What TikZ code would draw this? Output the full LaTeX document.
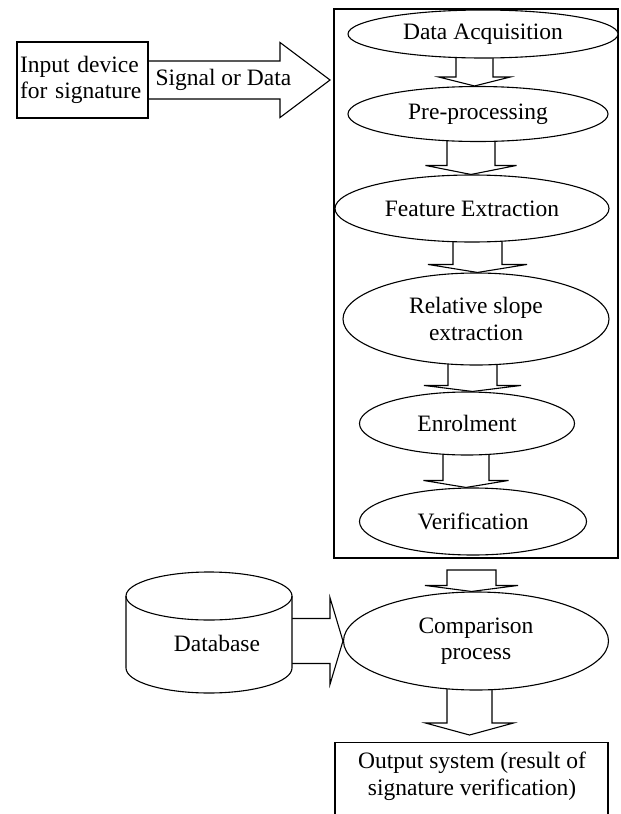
\documentclass[tikz,border=0pt]{standalone}
\usepackage{fontspec}
\setmainfont{Liberation Serif}
\usetikzlibrary{calc,shapes.geometric}
\pgfdeclarelayer{background}
\pgfsetlayers{background,main}

% Downward block arrow: x of axis, start, tip, half shaft, half head, head length
\newcommand{\downblock}[6]{%
  \draw[blockarrow] let \p1=(#2), \p2=(#3) in
    (#1pt-#4pt,\y1) -- (#1pt-#4pt,\y2+#6pt) -- (#1pt-#5pt,\y2+#6pt) -- (#1pt,\y2)
    -- (#1pt+#5pt,\y2+#6pt) -- (#1pt+#4pt,\y2+#6pt) -- (#1pt+#4pt,\y1) -- cycle;}
% Rightward block arrow: start, tip, half shaft, half head, head length
\newcommand{\rightblock}[5]{%
  \draw[blockarrow] let \p1=(#1), \p2=(#2) in
    (\x1,\y2+#3pt) -- (\x2-#5pt,\y2+#3pt) -- (\x2-#5pt,\y2+#4pt) -- (\x2,\y2)
    -- (\x2-#5pt,\y2-#4pt) -- (\x2-#5pt,\y2-#3pt) -- (\x1,\y2-#3pt) -- cycle;}

\begin{document}
\begin{tikzpicture}[x=1pt,y=-1pt,line width=1.1pt,
  font=\fontsize{23.5}{26.5}\selectfont,
  stage/.style={ellipse,draw,fill=white,inner sep=0pt,align=center},
  blockarrow/.style={draw=black,fill=white,line width=1.1pt,line join=miter},
  box/.style={rectangle,draw,fill=white}]
\useasboundingbox (0,0) rectangle (621,814);
\clip (0,0) rectangle (621,814);

% input device and processing frame
\node[box,minimum height=76pt,text width=125pt,inner xsep=3pt,align=left]
  (in) at (82.5,80) {Input device\\for signature};
\node[draw,minimum width=284pt,minimum height=549pt,inner sep=0pt]
  (frame) at (476,283.5) {};
\coordinate (sigtip) at (330,80);
\node[anchor=west,inner sep=0pt] (sig) at (155,80) {Signal or Data};

% processing stages
\node[stage,minimum width=270pt,minimum height=48pt] (acq) at (483,34) {Data Acquisition};
\node[stage,minimum width=260pt,minimum height=55pt] (pre) at (478,114) {Pre-processing};
\node[stage,minimum width=274pt,minimum height=67pt] (feat) at (472,208.5) {Feature Extraction};
\node[stage,minimum width=266pt,minimum height=92pt] (rel) at (476,319) {Relative slope\\extraction};
\node[stage,minimum width=215pt,minimum height=63pt] (enr) at (467,423.5) {Enrolment};
\node[stage,minimum width=227pt,minimum height=67pt] (ver) at (473,521.5) {Verification};
\node[stage,minimum width=265pt,minimum height=98pt] (comp) at (476,641) {Comparison\\process};
\coordinate (a6top) at (471.5,570);
\coordinate (a7tip) at (469.5,735);

% database cylinder
\filldraw[fill=white] (126,596) -- (126,668)
  arc[start angle=180,end angle=0,x radius=83,y radius=25] -- (292,596)
  arc[start angle=0,end angle=-180,x radius=83,y radius=24] -- cycle;
\draw (126,596) arc[start angle=180,end angle=0,x radius=83,y radius=24];
\node (db) at (217,643) {Database};

% output system
\node[box,anchor=north,minimum width=273pt,minimum height=100pt] (out) at (471.5,742) {};
\node[align=center,inner sep=0pt] (outtxt) at (472,776.5)
  {Output system (result of\\signature verification)};

% block arrows behind the shapes
\begin{pgfonlayer}{background}
  \rightblock{in.center}{sigtip}{19}{37.5}{50}
  \rightblock{db.center}{comp.west}{22.5}{43.5}{13}
  \downblock{474.5}{acq.center}{pre.north}{18.5}{36}{9}
  \downblock{471}{pre.center}{feat.north}{24}{45.5}{9}
  \downblock{477.5}{feat.center}{rel.north}{24.5}{49.5}{8}
  \downblock{472.5}{rel.center}{enr.north}{24.5}{48.5}{6}
  \downblock{466}{enr.center}{ver.north}{23}{42.5}{7}
  \downblock{471.5}{a6top}{comp.north}{24.5}{46.5}{6}
  \downblock{469.5}{comp.center}{a7tip}{22.5}{44}{12}
\end{pgfonlayer}
\end{tikzpicture}
\end{document}
